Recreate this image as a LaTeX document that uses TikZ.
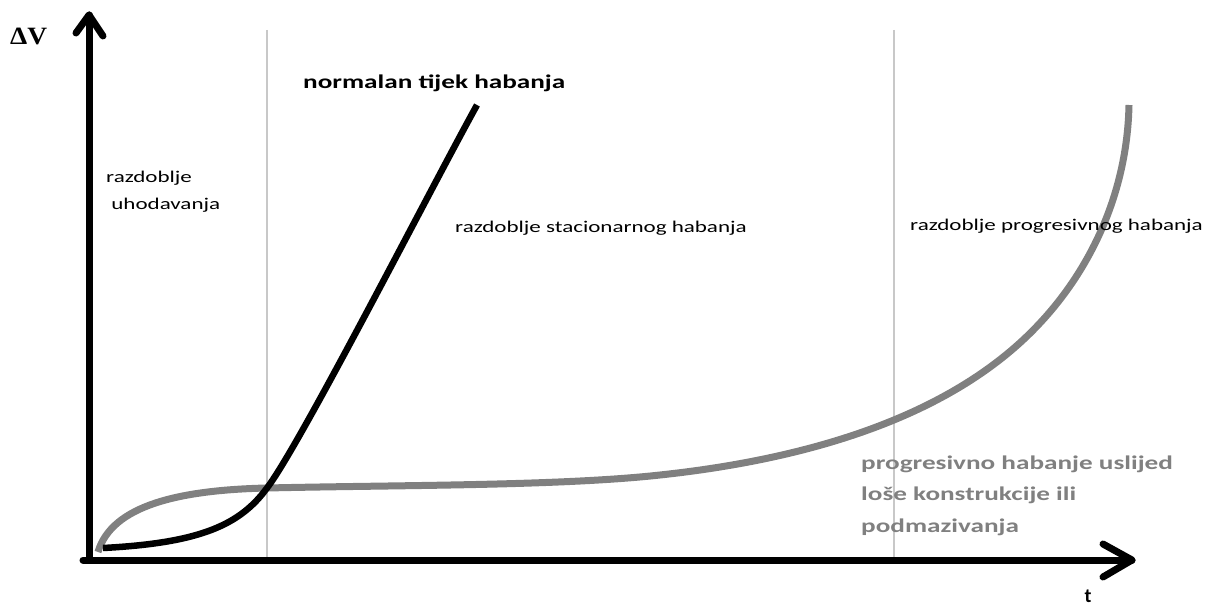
\documentclass[tikz,border=0pt]{standalone}
\usepackage{fontspec}
\usetikzlibrary{calc}
\setmainfont{Carlito}
\newfontfamily\serifb{Liberation Serif}
\definecolor{curvegray}{HTML}{808080}
\definecolor{guidegray}{HTML}{C8C8C8}
\newcommand{\wide}[1]{\scalebox{1.4}[1]{#1}}
\tikzset{
  axisline/.style={line width=7bp, line cap=round, line join=round},
  guideline/.style={draw=guidegray, line width=1.5bp},
  wearblack/.style={line width=6.5bp, black},
  weargray/.style={line width=7bp, curvegray},
  lbl/.style={inner sep=0pt, anchor=base west, font=\fontsize{16.5}{27}\selectfont},
  blbl/.style={inner sep=0pt, anchor=base west, font=\fontsize{19.5}{32}\selectfont\bfseries},
}
\begin{document}
\begin{tikzpicture}[x=1bp,y=-1bp]
\useasboundingbox (0,0) rectangle (1218,607);
% guide lines
\coordinate (g1top) at (267,30);
\coordinate (g1bot) at (267,560);
\coordinate (g2top) at (894,30);
\coordinate (g2bot) at (894,560);
\draw[guideline] (g1top) -- (g1bot);
\draw[guideline] (g2top) -- (g2bot);
% axes
\coordinate (O) at (89,560);
\coordinate (xstart) at (83,560);
\coordinate (ytip) at (89,15);
\coordinate (xtip) at (1132,560);
\draw[axisline] (O) -- (ytip);
\draw[axisline] (xstart) -- (xtip);
\draw[axisline] ($(ytip)+(-13,18)$) -- (ytip) -- ($(ytip)+(14,21)$);
\draw[axisline] ($(xtip)+(-29,-16)$) -- (xtip) -- ($(xtip)+(-29,17)$);
% curves
\coordinate (gs) at (98,552);
\coordinate (cross) at (267,488);
\coordinate (gm) at (660,475);
\coordinate (gk) at (1040,323);
\coordinate (ge) at (1129,105);
\coordinate (bs) at (103,548);
\coordinate (be) at (477,105);
\draw[weargray] (gs) .. controls (112,505) and (180,490) .. (cross)
  .. controls (400,485) and (560,486) .. (gm)
  .. controls (800,460) and (950,420) .. (gk)
  .. controls (1085,275) and (1127,200) .. (ge);
\draw[wearblack] (bs) .. controls (200,543) and (240,525) .. (cross)
  .. controls (300,445) and (430,190) .. (be);
% labels
\node[inner sep=0pt, anchor=base west, font=\fontsize{25}{30}\serifb\bfseries] (dv) at (10,45) {\scalebox{1.1}[1]{ΔV}};
\node[inner sep=0pt, anchor=base, font=\fontsize{20}{24}\selectfont\bfseries] (t) at (1088,602) {t};
\node[blbl] (normal) at (303,89) {\wide{normalan tijek habanja}};
\node[lbl] (uho) at (106,183) {\wide{\begin{tabular}[t]{@{}l@{}}razdoblje\\~uhodavanja\end{tabular}}};
\node[lbl] (stac) at (455,233) {\wide{razdoblje stacionarnog habanja}};
\node[lbl] (prog) at (910,231) {\wide{razdoblje progresivnog habanja}};
\node[blbl, text=curvegray] (bad) at (861,469) {\wide{\begin{tabular}[t]{@{}l@{}}progresivno habanje uslijed\\loše konstrukcije ili\\podmazivanja\end{tabular}}};
\end{tikzpicture}
\end{document}
